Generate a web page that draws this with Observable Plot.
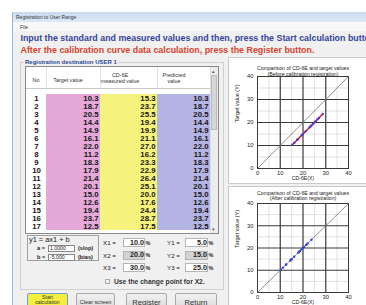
<!DOCTYPE html>
<html><head><meta charset="utf-8">
<script src="https://cdn.jsdelivr.net/npm/d3@7"></script>
<script src="https://cdn.jsdelivr.net/npm/@observablehq/plot@0.6"></script>
<style>
body{margin:0;background:#fff;}
#root{position:relative;width:366px;height:305px;overflow:hidden;background:#fff;font-family:"Liberation Sans",Arial,sans-serif;}
.a{position:absolute;white-space:nowrap;box-sizing:border-box;}
.a svg{display:block;overflow:visible;}
</style></head><body><div id="root"></div>
<script>
// ---------- data ----------
const rowNo = [1,2,3,4,5,6,7,8,9,10,11,12,13,14,15,16,17];
const targetValues   = [10.3,18.7,20.5,14.4,14.9,16.1,22.0,11.2,18.3,17.9,21.4,20.1,15.0,12.6,19.4,23.7,12.5];
const measuredValues = [15.3,23.7,25.5,19.4,19.9,21.1,27.0,16.2,23.3,22.9,26.4,25.1,20.0,17.6,24.4,28.7,17.5];
const predictedValues= [10.3,18.7,20.5,14.4,14.9,16.1,22.0,11.2,18.3,17.9,21.4,20.1,15.0,12.6,19.4,23.7,12.5];
const axisTicks = [0,10,20,30,40];
const minorTicks = [5,15,25,35];
const slopeA = "1.0000", biasB = "-5.000";
const xPoints = ["10.0","20.0","30.0"];
const yPoints = ["5.0","15.0","25.0"];
const texts = {
  window: "Registration to User Range",
  menu: "File",
  line1: "Input the standard and measured values and then, press the Start calculation button.",
  line2: "After the calibration curve data calculation, press the Register button.",
  group: "Registration destination USER 1",
  chartTitle: "Comparison of CD-6E and target values",
  before: "(Before calibration registration)",
  after: "(After calibration registration)",
  xLabel: "CD-6E(X)",
  yLabel: "Target value (Y)"
};

const root = document.getElementById("root");
function el(style, text, parent=root){
  const d = document.createElement("div");
  d.className = "a";
  d.style.cssText = style;
  if (text != null) d.textContent = text;
  parent.appendChild(d);
  return d;
}
function fit(d, w){
  const r = d.getBoundingClientRect().width;
  const fs = parseFloat(getComputedStyle(d).fontSize);
  d.style.fontSize = (fs * w / r) + "px";
}

// ---------- window chrome ----------
el("left:12px;top:12px;width:360px;height:300px;background:#f0f0f0;border-left:1px solid #9bb4d4;");
el("left:12px;top:12px;width:360px;height:10px;background:linear-gradient(#c9daef,#dde8f6);border-left:1px solid #9bb4d4;");
el("left:16px;top:14px;font-size:5px;color:#333;line-height:6px;", texts.window);
el("left:13px;top:22px;width:360px;height:9px;background:#f8f8f8;");
el("left:20px;top:24px;font-size:5px;color:#333;line-height:6px;", texts.menu);
const l1 = el("left:20.5px;top:33px;font-size:9px;font-weight:bold;color:#34449c;line-height:10px;", texts.line1);
const l2 = el("left:20.5px;top:45px;font-size:9px;font-weight:bold;color:#d6432e;line-height:10px;", texts.line2);
fit(l2, 294);
l1.style.fontSize = l2.style.fontSize;

// group box
el("left:20px;top:62px;width:204px;height:228px;border:1px solid #d0d0d0;");
const g = el("left:24px;top:58.5px;font-size:6px;font-weight:bold;color:#2a4a9a;line-height:7px;background:#f0f0f0;padding:0 1px;", texts.group);
fit(g, 94);

// ---------- table ----------
el("left:25px;top:66px;width:194px;height:168px;background:#fff;border:1px solid #8a8a8a;");
const cols = [
  {key:"no",   left:26,  w:20, fill:"#ffffff", fmt:d=>String(d), anchor:"middle", head:["No"], hx:36},
  {key:"t",    left:46,  w:54, fill:"#e4a8d9", fmt:d=>d.toFixed(1), anchor:"right", head:["Target value"], hx:68},
  {key:"m",    left:100, w:57, fill:"#f5f37e", fmt:d=>d.toFixed(1), anchor:"right", head:["CD-6E","measured value"], hx:120},
  {key:"p",    left:157, w:53, fill:"#b3b4e3", fmt:d=>d.toFixed(1), anchor:"right", head:["Predicted","value"], hx:174}
];
const rows = rowNo.map((n,i)=>({no:n, t:targetValues[i], m:measuredValues[i], p:predictedValues[i]}));
cols.forEach((c,ci)=>{
  if (ci>0) el(`left:${c.left}px;top:67px;width:1px;height:21px;background:#e2e2e2;`);
  c.head.forEach((h,hi)=>{
    const top = c.head.length===1 ? 77 : 72 + hi*6;
    el(`left:${c.hx}px;top:${top}px;transform:translateX(-50%);font-size:5.4px;color:#333;line-height:6px;`, h);
  });
});
el("left:26px;top:88px;width:184px;height:1px;background:#c8c8c8;");
const body = el("left:26px;top:89.5px;width:184px;height:143.5px;overflow:hidden;");
cols.forEach(c=>{
  const holder = el(`left:${c.left-26}px;top:0px;width:${c.w}px;`, null, body);
  holder.appendChild(Plot.plot({
    width:c.w, height:17*8.5, margin:0,
    style:{background:"transparent", fontFamily:"Liberation Sans, Arial, sans-serif", fontSize:"7.8px", fontWeight:"bold", color:"#151515"},
    x:{axis:null}, y:{type:"band", domain:rowNo, padding:0, axis:null},
    marks:[
      Plot.cell(rows, {y:"no", fill:c.fill, inset:0}),
      Plot.text(rows, {y:"no", text:d=>c.fmt(d[c.key]), frameAnchor:c.anchor, dx:c.anchor==="right"?-2:0, fill:"#151515"})
    ]
  }));
});
el("left:210px;top:67px;width:8px;height:166px;background:#ececec;border-left:1px solid #ddd;");
el("left:211px;top:75px;width:6px;height:55px;background:#d6d6d6;border:1px solid #bbb;");
el("left:211.5px;top:67.5px;font-size:5px;color:#555;line-height:6px;", "▴");
el("left:211.5px;top:226px;font-size:5px;color:#555;line-height:6px;", "▾");

// ---------- equation + inputs ----------
el("left:27px;top:235px;width:72px;height:26px;border:1px solid #a0a0a0;");
el("left:29px;top:236px;font-size:7.4px;color:#222;line-height:8px;", "y1 = ax1 + b");
el("left:37px;top:245px;font-size:5.6px;font-weight:bold;color:#222;line-height:6px;", "a =");
el("left:37px;top:254px;font-size:5.6px;font-weight:bold;color:#222;line-height:6px;", "b =");
el("left:48px;top:245px;width:27px;height:6.5px;background:#fff;border:1px solid #888;font-size:5.2px;line-height:5px;padding-left:1px;color:#222;", slopeA);
el("left:48px;top:254px;width:27px;height:6.5px;background:#fff;border:1px solid #888;font-size:5.2px;line-height:5px;padding-left:1px;color:#222;", biasB);
el("left:78px;top:245px;font-size:5.6px;font-weight:bold;color:#222;line-height:6px;", "(slop)");
el("left:78px;top:254px;font-size:5.6px;font-weight:bold;color:#222;line-height:6px;", "(bias)");
[0,1,2].forEach(i=>{
  const cy = 242.5 + i*12.5;
  const bg = i===1 ? "#d3d3d3" : "#fff";
  el(`left:103px;top:${cy-3.5}px;font-size:6.2px;color:#222;line-height:7px;`, `X${i+1} =`);
  el(`left:123px;top:${cy-4.5}px;width:22px;height:9px;background:${bg};border:1px solid #b5b5b5;`);
  el(`left:123px;top:${cy-4}px;width:21px;text-align:right;font-size:7.2px;font-weight:bold;color:#222;line-height:8px;`, xPoints[i]);
  el(`left:145.5px;top:${cy-3}px;font-size:5.4px;font-weight:bold;color:#222;line-height:6px;`, "%");
  el(`left:167px;top:${cy-3.5}px;font-size:6.2px;color:#222;line-height:7px;`, `Y${i+1} =`);
  el(`left:185px;top:${cy-4.5}px;width:23px;height:9px;background:${bg};border:1px solid #b5b5b5;`);
  el(`left:185px;top:${cy-4}px;width:22px;text-align:right;font-size:7.2px;font-weight:bold;color:#222;line-height:8px;`, yPoints[i]);
  el(`left:208.5px;top:${cy-3}px;font-size:5.4px;font-weight:bold;color:#222;line-height:6px;`, "%");
});
el("left:105px;top:278.5px;width:5px;height:5px;background:#f4f4f4;border:1px solid #aaa;");
const cb = el("left:114px;top:278px;font-size:6px;font-weight:bold;color:#333;line-height:7px;", "Use the change point for X2.");
fit(cb, 91);

// ---------- buttons ----------
el("left:27px;top:293px;width:41px;height:16px;background:#f3ef3c;border:1px solid #6f9fd8;border-radius:2px;");
el("left:47.5px;top:294px;transform:translateX(-50%);text-align:center;font-size:5.2px;color:#333;line-height:6px;", "Start");
el("left:47.5px;top:299.5px;transform:translateX(-50%);text-align:center;font-size:5.2px;color:#333;line-height:5.5px;", "calculation");
[["Clear screen",76,39,5.6],["Register",126,41,7.6],["Return",175,42,7.6]].forEach(([t,x,w,fs])=>{
  el(`left:${x}px;top:293px;width:${w}px;height:16px;background:linear-gradient(#f2f2f2,#dadada);border:1px solid #a9a9a9;border-radius:2px;`);
  el(`left:${x+w/2}px;top:${302.5-fs/2}px;transform:translateX(-50%);font-size:${fs}px;color:#333;line-height:${fs}px;`, t);
});

// ---------- charts ----------
function chart(sub, xs, ys, fitLine, frameH, titleOff){
  const pts = xs.map((x,i)=>({x, y:ys[i]})).sort((a,b)=>a.x-b.x);
  const grid = (ticks, stroke, sw) => [
    Plot.ruleX(ticks, {stroke, strokeWidth:sw}),
    Plot.ruleY(ticks, {stroke, strokeWidth:sw})
  ];
  return Plot.plot({
    width:138, height:titleOff[0]+frameH+14,
    marginLeft:29, marginRight:18, marginTop:titleOff[0], marginBottom:14,
    style:{background:"transparent", fontFamily:"Liberation Sans, Arial, sans-serif", fontSize:"5.8px", color:"#222"},
    x:{domain:[0,40], ticks:axisTicks, tickSize:0, tickPadding:2, label:null},
    y:{domain:[0,40], ticks:axisTicks, tickSize:0, tickPadding:4, label:null},
    marks:[
      ...grid(minorTicks, "#cfcfcf", 0.6),
      ...grid(axisTicks.slice(1,-1), "#3a3a3a", 1.2),
      Plot.frame({stroke:"#3a3a3a", strokeWidth:1}),
      Plot.link([axisTicks], {x1:d=>d[0], y1:d=>d[0], x2:d=>d[d.length-1], y2:d=>d[d.length-1], stroke:"#808080", strokeWidth:0.9}),
      fitLine ? Plot.line(pts, {x:"x", y:"y", stroke:"#d42a2a", strokeWidth:1.6}) : null,
      Plot.dot(pts, {x:"x", y:"y", r:1.2, fill:fitLine ? "#5a3cc8" : "#2e48c8", stroke:null}),
      Plot.text([texts.chartTitle], {frameAnchor:"top", dy:-titleOff[1], fontSize:5.2, fill:"#222"}),
      Plot.text([sub], {frameAnchor:"top", dy:-titleOff[2], fontSize:5.2, fill:"#222"}),
      Plot.text([texts.xLabel], {frameAnchor:"bottom", dy:11, fontSize:5.2, fill:"#222"}),
      Plot.text([texts.yLabel], {frameAnchor:"left", dx:-20, rotate:-90, fontSize:5.4, fill:"#222"})
    ]
  });
}
el("left:228px;top:57px;width:140px;height:127px;background:#fff;border:1px solid #c9c9c9;");
el("left:228px;top:186px;width:140px;height:125px;background:#fff;border:1px solid #c9c9c9;");
el("left:228px;top:57px;", null).appendChild(chart(texts.before, measuredValues, targetValues, true, 92, [19,10,4.5]));
el("left:228px;top:186px;", null).appendChild(chart(texts.after, predictedValues, targetValues, false, 89, [17,12.5,7]));
</script></body></html>
